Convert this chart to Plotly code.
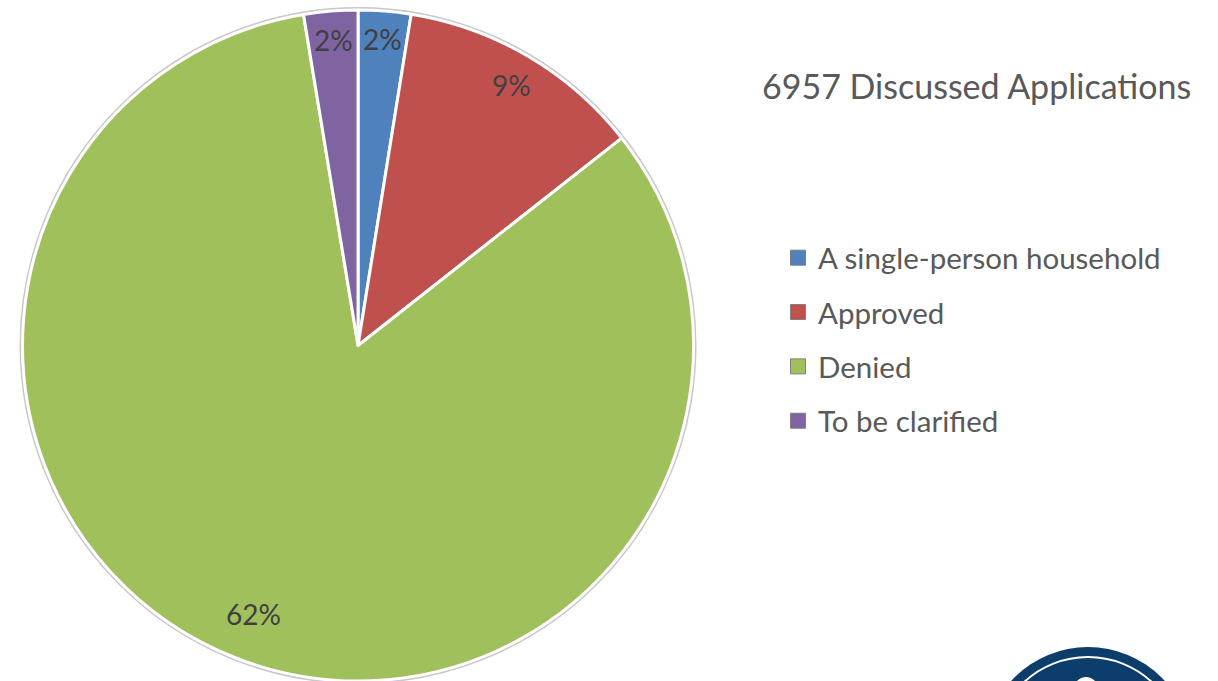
import math
import plotly.graph_objects as go

# ---- data ----
categories = ["A single-person household", "Approved", "Denied", "To be clarified"]
values = [1.9, 8.9, 62.3, 1.95]
colors = ["#4F81BD", "#C0504D", "#A0C05C", "#8064A2"]
title_text = "6957 Discussed Applications"

# style: radial position of each percentage label (fraction of radius)
label_radius = [0.915, 0.9, 0.86, 0.915]

W, H = 1218, 681
FONT = "Lato"

dom_x = [0.0181, 0.5698]
dom_y = [0.0, 0.9853]

fig = go.Figure()

fig.add_trace(go.Pie(
    labels=categories,
    values=values,
    sort=False,
    direction="clockwise",
    rotation=0,
    marker=dict(colors=colors, line=dict(color="white", width=3)),
    textinfo="none",
    hoverinfo="label+value",
    showlegend=False,
    domain=dict(x=dom_x, y=dom_y),
))

# legend entries (one group per category so the spacing can be set)
for cat, col in zip(categories, colors):
    fig.add_trace(go.Scatter(
        x=[None], y=[None], mode="markers", name=cat, legendgroup=cat,
        marker=dict(symbol="square", size=15, color=col,
                    line=dict(color="#7f7f7f", width=1)),
        showlegend=True, hoverinfo="skip",
    ))

# percentage labels placed at each slice's mid-angle
cxp = sum(dom_x) / 2
cyp = sum(dom_y) / 2
R = min((dom_x[1] - dom_x[0]) * W, (dom_y[1] - dom_y[0]) * H) / 2
total = sum(values)
cum = 0.0
annotations = []
for v, lr in zip(values, label_radius):
    mid = (cum + v / 2) / total * 2 * math.pi
    cum += v
    rr = lr * R
    annotations.append(dict(
        x=cxp + rr * math.sin(mid) / W,
        y=cyp + rr * math.cos(mid) / H,
        xref="paper", yref="paper", showarrow=False,
        text=f"{v:.0f}%",
        font=dict(family=FONT, size=28, color="#404040"),
        xanchor="center", yanchor="middle",
    ))

shapes = [
    # subtle rim around the pie
    dict(type="circle", xref="paper", yref="paper", layer="below",
         x0=cxp - (R + 2) / W, x1=cxp + (R + 2) / W,
         y0=cyp - (R + 2) / H, y1=cyp + (R + 2) / H,
         line=dict(color="#c8c8c8", width=2), fillcolor="rgba(0,0,0,0)"),
    # logo (bottom right)
    dict(type="circle", xref="paper", yref="paper",
         x0=984 / W, x1=1192 / W, y0=1 - 855 / H, y1=1 - 647 / H,
         fillcolor="#0D3D6B", line=dict(width=0)),
    dict(type="circle", xref="paper", yref="paper",
         x0=994 / W, x1=1182 / W, y0=1 - 845 / H, y1=1 - 657 / H,
         fillcolor="rgba(0,0,0,0)", line=dict(color="white", width=2)),
    dict(type="circle", xref="paper", yref="paper",
         x0=1074 / W, x1=1098 / W, y0=1 - 701 / H, y1=1 - 677 / H,
         fillcolor="white", line=dict(width=0)),
]

fig.update_layout(
    width=W, height=H,
    margin=dict(l=0, r=0, t=0, b=0),
    paper_bgcolor="white", plot_bgcolor="white",
    xaxis=dict(visible=False), yaxis=dict(visible=False),
    title=dict(text=title_text, x=762 / W, xanchor="left",
               y=1 - 87 / H, yanchor="middle",
               font=dict(family=FONT, size=34, color="#595959")),
    legend=dict(x=778 / W, xanchor="left", y=1 - 232 / H, yanchor="top",
                font=dict(family=FONT, size=29.5, color="#595959"),
                tracegroupgap=13, bgcolor="rgba(0,0,0,0)"),
    annotations=annotations,
    shapes=shapes,
)

fig.write_html("out.html",
               config={"displayModeBar": False},
               post_script="document.body.style.margin='0';document.body.style.overflow='hidden';")
